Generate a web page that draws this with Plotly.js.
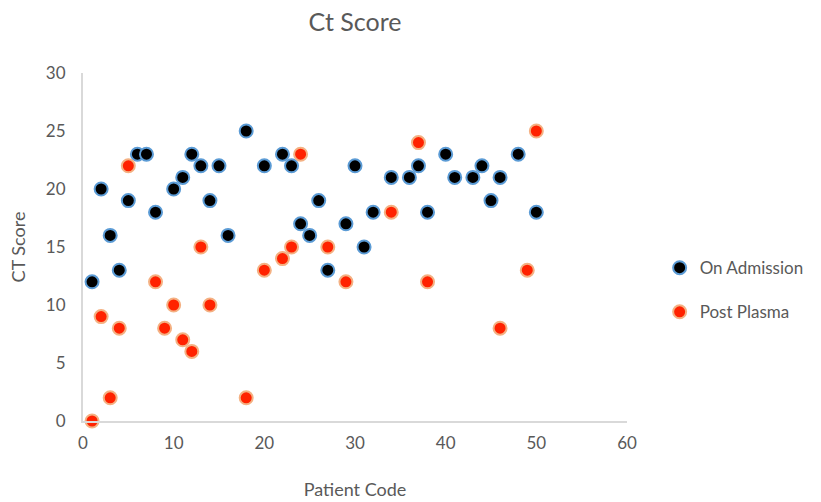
<!DOCTYPE html>
<html>
<head>
<meta charset="utf-8">
<script src="https://cdn.plot.ly/plotly-3.0.1.min.js"></script>
<style>html,body{margin:0;padding:0;background:#fff;}#chart{width:821px;height:502px;}</style>
</head>
<body>
<div id="chart"></div>
<script>
var admissionX = [1,2,3,4,5,6,7,8,10,11,12,13,14,15,16,18,20,22,23,24,25,26,27,29,30,31,32,34,36,37,38,40,41,43,44,45,46,48,50];
var admissionY = [12,20,16,13,19,23,23,18,20,21,23,22,19,22,16,25,22,23,22,17,16,19,13,17,22,15,18,21,21,22,18,23,21,21,22,19,21,23,18];
var plasmaX = [1,2,3,4,5,8,9,10,11,12,13,14,18,20,22,23,24,27,29,34,37,38,46,49,50];
var plasmaY = [0,9,2,8,22,12,8,10,7,6,15,10,2,13,14,15,23,15,12,18,24,12,8,13,25];
var xTicks = [0,10,20,30,40,50,60];
var yTicks = [0,5,10,15,20,25,30];

var fontFam = 'Lato, "Open Sans", sans-serif';
var traces = [
  {x: admissionX, y: admissionY, type: 'scatter', mode: 'markers', name: 'On Admission',
   cliponaxis: false, legendgroup: 'a',
   marker: {size: 13, color: '#000000', line: {color: '#5B9BD5', width: 2}}},
  {x: plasmaX, y: plasmaY, type: 'scatter', mode: 'markers', name: 'Post Plasma',
   cliponaxis: false, legendgroup: 'b',
   marker: {size: 13, color: '#FF2200', line: {color: '#F4B183', width: 2}}}
];
var layout = {
  width: 821, height: 502,
  paper_bgcolor: '#ffffff', plot_bgcolor: '#ffffff',
  margin: {l: 83, r: 191, t: 73, b: 81},
  font: {family: fontFam, color: '#595959', size: 16},
  title: {text: 'Ct Score', x: 0.5, xref: 'paper', xanchor: 'center', y: 0.955, yanchor: 'middle', yref: 'container',
          font: {family: fontFam, size: 25, color: '#595959'}},
  showlegend: true,
  legend: {x: 1.06, xanchor: 'left', y: 0.376, yanchor: 'middle', font: {size: 17, color: '#595959'},
           traceorder: 'grouped', tracegroupgap: 19, bgcolor: 'rgba(0,0,0,0)'},
  xaxis: {range: [0, 60], tickvals: xTicks, ticktext: xTicks.map(String), showgrid: false, zeroline: false,
          showline: true, linecolor: '#d9d9d9', linewidth: 2, ticks: '', ticklabelstandoff: 6,
          tickfont: {size: 17},
          title: {text: 'Patient Code', font: {size: 18, color: '#595959'}, standoff: 31}},
  yaxis: {range: [0, 30], tickvals: yTicks, ticktext: yTicks.map(String), showgrid: false, zeroline: false,
          showline: true, linecolor: '#d9d9d9', linewidth: 2, ticks: '', ticklabelstandoff: 12,
          tickfont: {size: 17},
          title: {text: 'CT Score', font: {size: 18, color: '#595959'}, standoff: 16}}
};
Plotly.newPlot('chart', traces, layout, {displayModeBar: false, staticPlot: true});
</script>
</body>
</html>
